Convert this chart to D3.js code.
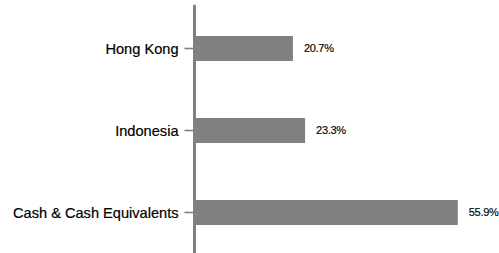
<!DOCTYPE html>
<html>
<head>
<meta charset="utf-8">
<script src="https://cdn.jsdelivr.net/npm/d3@7"></script>
<style>
  body { margin: 0; background: #fff; }
  text { font-family: "Liberation Sans", Arial, Helvetica, sans-serif; }
</style>
</head>
<body>
<div id="chart"></div>
<script>
// data
var categories = ["Hong Kong", "Indonesia", "Cash & Cash Equivalents"];
var values = [20.7, 23.3, 55.9];
var valueLabels = ["20.7%", "23.3%", "55.9%"];

var width = 499, height = 253;
var axisX = 194.5;

var svg = d3.select("#chart")
    .append("svg")
        .attr("width", width)
        .attr("height", height);

var x = d3.scaleLinear().domain([0, 60]).range([196, 196 + 281]);
var y = d3.scaleBand()
    .domain(categories)
    .range([7.5, 253.5])
    .paddingInner(0.695)
    .paddingOuter(0.3475);

// bars
svg.append("g")
    .selectAll("rect")
    .data(values)
    .enter()
    .append("rect")
        .attr("x", x(0))
        .attr("y", function(d, i) { return y(categories[i]); })
        .attr("width", function(d) { return x(d) - x(0); })
        .attr("height", y.bandwidth())
        .style("fill", "#808080");

// value labels
svg.append("g")
    .selectAll("text")
    .data(values)
    .enter()
    .append("text")
        .attr("x", function(d) { return x(d) + 11; })
        .attr("y", function(d, i) { return y(categories[i]) + y.bandwidth() / 2; })
        .attr("dy", "0.35em")
        .style("font-size", "11px")
        .style("letter-spacing", "-0.3px")
        .style("fill", "#000")
        .style("stroke", "#000")
        .style("stroke-width", 0.15)
        .text(function(d, i) { return valueLabels[i]; });

// category axis
var axis = svg.append("g")
    .attr("transform", "translate(" + axisX + ",0)")
    .call(d3.axisLeft(y).tickSize(10).tickSizeOuter(0).tickPadding(6));

axis.select(".domain").remove();
axis.selectAll(".tick line")
    .style("stroke", "#808080")
    .style("stroke-width", 1.6);
axis.selectAll(".tick text")
    .style("font-size", "14.6px")
    .style("fill", "#000")
    .style("stroke", "#000")
    .style("stroke-width", 0.2)
    .attr("dy", "0.36em");

svg.append("line")
    .attr("x1", axisX).attr("x2", axisX)
    .attr("y1", 6).attr("y2", 262)
    .style("stroke", "#808080")
    .style("stroke-width", 3)
    .style("stroke-linecap", "round");
</script>
</body>
</html>
